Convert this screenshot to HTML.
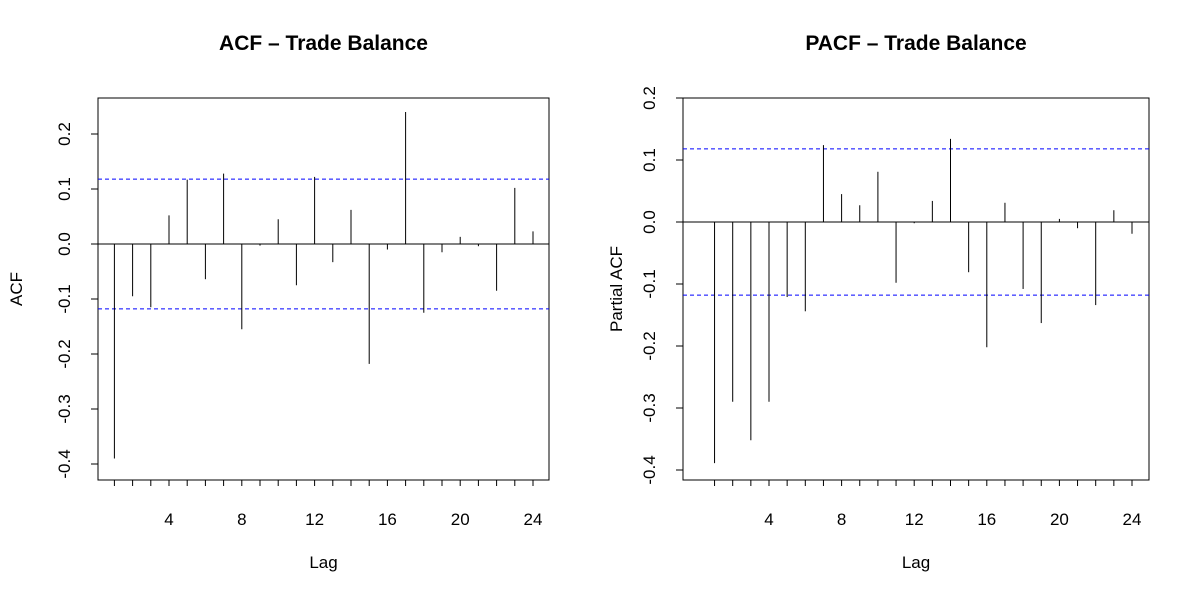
<!DOCTYPE html>
<html><head><meta charset="utf-8"><style>body{margin:0;background:#fff}svg{display:block;font-family:"Liberation Sans",Arial,sans-serif}</style></head>
<body>
<svg id="c" width="1200" height="600"></svg>
<script>
const lags=[1,2,3,4,5,6,7,8,9,10,11,12,13,14,15,16,17,18,19,20,21,22,23,24];
const acfValues=[-0.39,-0.095,-0.115,0.052,0.117,-0.064,0.128,-0.155,-0.003,0.045,-0.075,0.122,-0.033,0.062,-0.218,-0.01,0.24,-0.125,-0.015,0.013,-0.004,-0.085,0.102,0.023];
const pacfValues=[-0.389,-0.29,-0.352,-0.29,-0.121,-0.144,0.124,0.045,0.027,0.081,-0.098,-0.002,0.034,0.134,-0.081,-0.202,0.031,-0.108,-0.163,0.005,-0.01,-0.134,0.019,-0.019];
const ciBound=0.118;
const xTicks=[4,8,12,16,20,24];
const acfYTicks=[-0.4,-0.3,-0.2,-0.1,0.0,0.1,0.2];
const pacfYTicks=[-0.4,-0.3,-0.2,-0.1,0.0,0.1,0.2];
const NS="http://www.w3.org/2000/svg";
const svg=document.getElementById('c');
function el(t,a,p){const e=document.createElementNS(NS,t);for(const k in a)e.setAttribute(k,a[k]);(p||svg).appendChild(e);return e;}
function panel(o){
  const g=el('g',{});
  
  
  const x=v=>o.x0+(v-4)*(o.x24-o.x0)/20;
  const y=v=>o.y0+v*(o.y1-o.y0)/0.1;
  const box=el('rect',{x:o.L,y:98,width:o.R-o.L,height:382,fill:'none',stroke:'#000','stroke-width':1},g);
  
  const t=el('text',{x:(o.L+o.R)/2,y:50,'text-anchor':'middle','font-size':21,'font-weight':'bold'},g);t.textContent=o.title;
  
  lags.forEach(l=>{el('line',{x1:x(l),x2:x(l),y1:480,y2:486,stroke:'#000'},g);});
  xTicks.forEach(l=>{const tx=el('text',{x:x(l),y:525,'text-anchor':'middle','font-size':17},g);tx.textContent=l;
    });
  o.yt.forEach(v=>{const yy=y(v);el('line',{x1:o.L,x2:o.L-7,y1:yy,y2:yy,stroke:'#000'},g);
    const tx=el('text',{x:0,y:0,'text-anchor':'middle','font-size':17,transform:`translate(${o.L-28},${yy}) rotate(-90)`},g);tx.textContent=v.toFixed(1);
    });
  el('line',{x1:o.L,x2:o.R,y1:y(0),y2:y(0),stroke:'#000'},g);
  [ciBound,-ciBound].forEach(v=>{const c=el('line',{x1:o.L,x2:o.R,y1:y(v),y2:y(v),stroke:'#0000ff','stroke-dasharray':'4,3'},g);
    });
  o.vals.forEach((v,i)=>{const b=el('line',{x1:x(lags[i]),x2:x(lags[i]),y1:y(0),y2:y(v),stroke:'#000'},g);
    });
  const xl=el('text',{x:(o.L+o.R)/2,y:568,'text-anchor':'middle','font-size':17},g);xl.textContent='Lag';
  
  const yl=el('text',{x:0,y:0,'text-anchor':'middle','font-size':17,transform:`translate(${o.yl},${(98+480)/2}) rotate(-90)`},g);yl.textContent=o.ylab;
  
}
panel({name:'acf-panel',title:'ACF \u2013 Trade Balance',L:98,R:549,x0:169,x24:533,y0:244,y1:189,vals:acfValues,yt:acfYTicks,ylab:'ACF',yl:22});
panel({name:'pacf-panel',title:'PACF \u2013 Trade Balance',L:683,R:1149,x0:769,x24:1132,y0:222,y1:160,vals:pacfValues,yt:pacfYTicks,ylab:'Partial ACF',yl:622});
</script>
</body></html>
